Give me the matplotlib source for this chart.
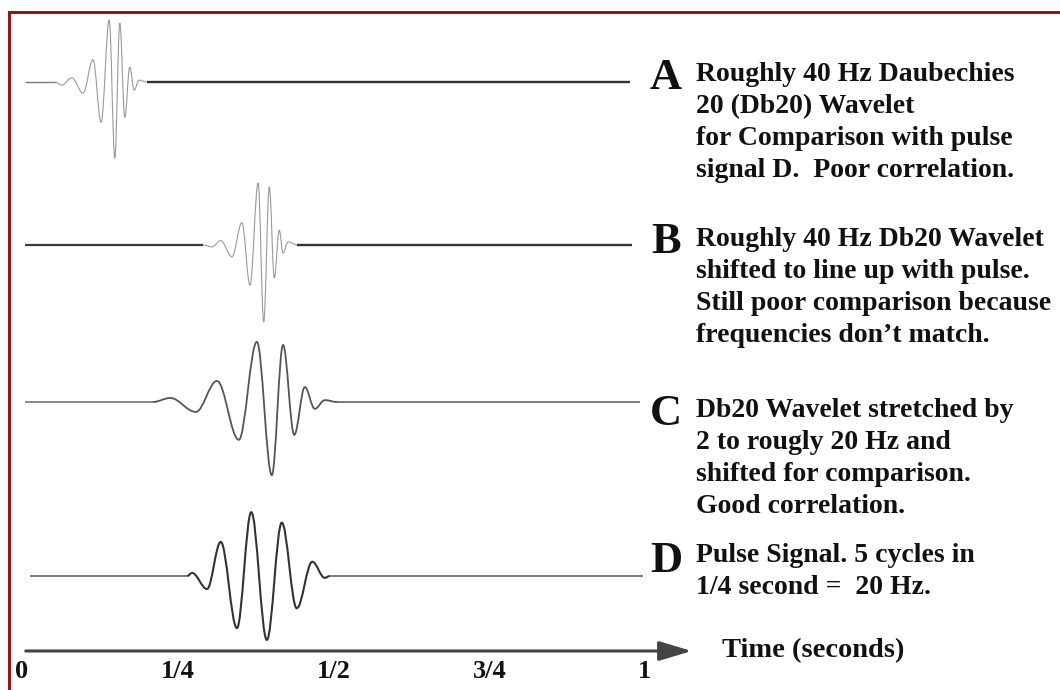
import matplotlib
matplotlib.use("Agg")
import matplotlib.pyplot as plt
from matplotlib.path import Path
from matplotlib.patches import PathPatch
from matplotlib.lines import Line2D

# turning points of each trace: time (s), amplitude
# amplitude 1 = tallest peak of trace A
a_time = [0.053, 0.064, 0.080, 0.098, 0.114, 0.127, 0.140, 0.149, 0.157, 0.165, 0.173, 0.180, 0.188, 0.200]
a_amp = [0.0, -0.05, 0.07, -0.18, 0.36, -0.65, 1.00, -1.23, 0.95, -0.57, 0.24, -0.13, 0.03, 0.0]
a_span = (0.005, 0.976)

b_time = [0.290, 0.305, 0.319, 0.337, 0.353, 0.366, 0.379, 0.388, 0.397, 0.405, 0.413, 0.419, 0.427, 0.442]
b_amp = [0.0, -0.03, 0.07, -0.19, 0.36, -0.65, 1.00, -1.24, 0.94, -0.53, 0.24, -0.13, 0.05, 0.0]
b_span = (0.005, 0.979)

c_time = [0.210, 0.238, 0.279, 0.313, 0.348, 0.377, 0.401, 0.419, 0.437, 0.454, 0.470, 0.486, 0.506]
c_amp = [0.0, 0.065, -0.16, 0.34, -0.61, 0.97, -1.18, 0.92, -0.53, 0.24, -0.11, 0.03, 0.0]
c_span = (0.005, 0.992)

d_time = [0.265, 0.273, 0.297, 0.319, 0.345, 0.368, 0.393, 0.417, 0.441, 0.466, 0.486, 0.494]
d_amp = [0.0, 0.05, -0.21, 0.55, -0.84, 1.03, -1.03, 0.86, -0.52, 0.23, -0.03, 0.0]
d_span = (0.013, 0.997)

letters = ["A", "B", "C", "D"]
notes = [
    "Roughly 40 Hz Daubechies\n20 (Db20) Wavelet\nfor Comparison with pulse\nsignal D.  Poor correlation.",
    "Roughly 40 Hz Db20 Wavelet\nshifted to line up with pulse.\nStill poor comparison because\nfrequencies don\u2019t match.",
    "Db20 Wavelet stretched by\n2 to rougly 20 Hz and\nshifted for comparison.\nGood correlation.",
    "Pulse Signal. 5 cycles in\n1/4 second =  20 Hz.",
]

tick_values = [0, 0.25, 0.5, 0.75, 1.0]
tick_labels = ["0", "1/4", "1/2", "3/4", "1"]
axis_label = "Time (seconds)"

plt.rcParams["font.family"] = "Liberation Serif"
plt.rcParams["font.weight"] = "bold"

W, H = 1060, 690
fig = plt.figure(figsize=(W / 100, H / 100), dpi=100)
ax = fig.add_axes([0, 0, 1, 1])
ax.set_xlim(-22 / 623, (W - 22) / 623)
ax.set_ylim((82 - H) / 62, 82 / 62)
ax.axis("off")

offsets = [0, (82 - 245) / 62, (82 - 402) / 62, (82 - 576) / 62]
axis_y = (82 - 651) / 62


def wave_path(ts, amps, off, k=0.36):
    verts = [(ts[0], amps[0] + off)]
    codes = [Path.MOVETO]
    for i in range(1, len(ts)):
        dt = ts[i] - ts[i - 1]
        verts += [(ts[i - 1] + k * dt, amps[i - 1] + off),
                  (ts[i] - k * dt, amps[i] + off),
                  (ts[i], amps[i] + off)]
        codes += [Path.CURVE4] * 3
    return Path(verts, codes)


traces = [
    (a_time, a_amp, a_span, "#9a9a9a", 0.8, "#7a7a7a", 1.0, "#333333", 1.7),
    (b_time, b_amp, b_span, "#9a9a9a", 0.8, "#3a3a3a", 1.6, "#333333", 1.7),
    (c_time, c_amp, c_span, "#555555", 1.3, "#6a6a6a", 1.1, "#555555", 1.1),
    (d_time, d_amp, d_span, "#333333", 1.5, "#555555", 1.1, "#555555", 1.1),
]
for (ts, amps, span, wc, wl, lc, ll, rc, rl), off in zip(traces, offsets):
    ax.plot([span[0], ts[0]], [off, off], color=lc, lw=ll, solid_capstyle="butt")
    ax.plot([ts[-1], span[1]], [off, off], color=rc, lw=rl, solid_capstyle="butt")
    ax.add_patch(PathPatch(wave_path(ts, amps, off), fill=False, edgecolor=wc, lw=wl))

# time axis with arrow
ax.annotate("", xy=(1.075, axis_y), xytext=(0.006, axis_y),
            arrowprops=dict(arrowstyle="-|>,head_length=1.0,head_width=0.3",
                            mutation_scale=20, lw=2.2, color="#444444",
                            shrinkA=0, shrinkB=0))
for t, lab in zip(tick_values, tick_labels):
    ax.text(t, (82 - 672) / 62, lab, ha="center", va="center", fontsize=19, color="#111111")
ax.text((722 - 22) / 623, axis_y, axis_label, ha="left", va="center", fontsize=20.5, color="#111111")

# letters and notes on the right
letter_base = [89, 253, 425, 572]
note_top = [62, 227, 398, 543]
for lt, nt, lb, nt_y in zip(letters, notes, letter_base, note_top):
    fig.text(666 / W, 1 - lb / H, lt, ha="center", va="baseline", fontsize=32, color="#111111")
    fig.text(696 / W, 1 - nt_y / H, nt, ha="left", va="top", fontsize=20,
             color="#111111", linespacing=1.37)

# dark red frame (top and left edges)
frame = "#8b1a1a"
fig.add_artist(Line2D([9 / W, 1], [1 - 12 / H] * 2, transform=fig.transFigure, color=frame, lw=2.2))
fig.add_artist(Line2D([9 / W] * 2, [0, 1 - 12 / H], transform=fig.transFigure, color=frame, lw=2.2))

fig.savefig("out.png", dpi=100, facecolor="white")
